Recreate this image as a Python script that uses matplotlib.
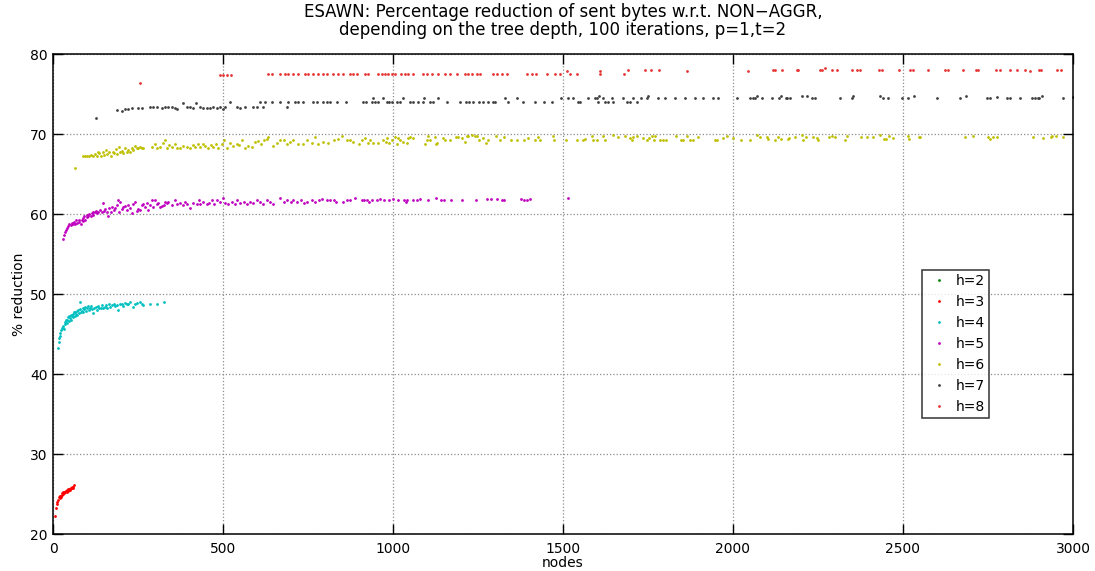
#!/usr/bin/env python3
"""
ESAWN sent-bytes reduction vs. NON-AGGR, one dot cloud per tree depth h.
Values read off the original MATLAB figure.
"""

import matplotlib
matplotlib.use('Agg')
import matplotlib.pyplot as plt

plt.rcParams['font.family'] = ['DejaVu Sans']

# ---- data: (nodes, % reduction) per tree depth ----
h2_nodes = []
h2_pct = []

h3_nodes = [6, 8, 11, 13, 16, 18, 20, 21, 22, 23,
            25, 27, 28, 30, 32, 33, 35, 37, 38, 40,
            42, 43, 45, 47, 48, 50, 52, 53, 55, 57,
            58, 60, 63]
h3_pct = [22.3, 23.3, 23.8, 24.0, 24.25, 24.6, 24.8, 24.5, 24.75, 24.6,
          24.9, 25.1, 25.2, 25.0, 25.3, 25.1, 25.2, 25.4, 25.4, 25.3,
          25.5, 25.6, 25.4, 25.5, 25.6, 25.5, 25.7, 25.8, 25.7, 25.9,
          25.8, 25.9, 26.1]

h4_nodes = [16, 18, 19, 21, 22, 24, 26, 28, 30, 32,
            34, 36, 38, 40, 42, 44, 46, 48, 50, 52,
            54, 56, 58, 60, 62, 64, 66, 68, 70, 72,
            74, 76, 78, 79, 81, 84, 87, 89, 92, 95,
            98, 101, 104, 107, 110, 113, 116, 119, 122, 125,
            128, 132, 136, 140, 144, 148, 152, 156, 160, 164,
            168, 173, 178, 182, 187, 192, 197, 202, 207, 212,
            217, 222, 227, 234, 241, 248, 256, 261, 266, 285,
            307, 325]
h4_pct = [43.3, 44.0, 44.5, 44.75, 45.1, 45.5, 45.7, 45.8, 46.0, 45.6,
          46.25, 46.5, 46.75, 46.4, 46.8, 47.1, 46.6, 47.25, 46.95, 47.4,
          46.75, 47.25, 47.5, 47.1, 47.7, 47.25, 47.8, 47.5, 47.9, 47.4,
          48.0, 47.6, 48.1, 49.0, 47.8, 47.9, 48.2, 47.8, 48.1, 48.4,
          47.9, 48.2, 48.5, 48.0, 48.25, 48.5, 48.1, 47.6, 48.2, 48.4,
          48.0, 48.5, 48.2, 48.3, 48.6, 48.2, 48.4, 48.6, 48.3, 48.7,
          48.4, 48.6, 48.8, 48.5, 48.6, 48.0, 48.7, 48.75, 48.5, 48.9,
          48.7, 48.8, 49.0, 48.4, 48.8, 48.9, 49.0, 48.8, 48.6, 48.8,
          48.75, 49.0]

h5_nodes = [30, 33, 35, 38, 42, 45, 48, 52, 55, 58,
            62, 65, 68, 72, 75, 77, 81, 84, 87, 89,
            92, 95, 99, 101, 104, 107, 111, 114, 117, 119,
            124, 127, 130, 133, 138, 143, 146, 150, 153, 158,
            163, 166, 170, 173, 178, 182, 187, 190, 194, 197,
            202, 207, 212, 217, 222, 227, 231, 236, 241, 246,
            251, 256, 261, 266, 271, 276, 280, 285, 290, 295,
            300, 305, 310, 315, 320, 325, 329, 334, 339, 349,
            359, 364, 374, 383, 388, 393, 403, 413, 423, 428,
            432, 442, 452, 460,
            467, 474, 481, 491, 499, 506, 516, 526, 535, 542,
            550, 562, 570, 579, 589, 599, 609, 617, 628, 638,
            648, 668, 678, 687, 699, 707, 717, 728, 738, 746,
            761, 771, 783, 790, 805, 815, 825, 832, 854, 864,
            874, 888,
            908, 915, 923, 928, 937, 954, 962, 974, 989, 1001,
            1016, 1032, 1038, 1042, 1060, 1070, 1078, 1104, 1127, 1141,
            1151, 1171, 1202, 1244, 1276, 1287, 1305, 1320, 1327, 1376,
            1385, 1393, 1403, 1516]
h5_pct = [56.9, 57.4, 57.8, 58.0, 58.3, 58.5, 58.75, 58.6, 58.9, 58.8,
          59.0, 58.75, 59.2, 58.9, 59.0, 59.25, 58.8, 59.3, 59.1, 59.5,
          59.7, 59.25, 59.9, 59.6, 59.75, 60.0, 59.75, 60.1, 60.3, 59.9,
          60.2, 60.4, 60.1, 60.3, 60.5, 60.2, 61.4, 60.4, 60.6, 60.25,
          59.7, 60.7, 60.3, 60.9, 60.5, 60.7, 61.1, 61.75, 60.3, 61.5,
          60.6, 60.9, 61.0, 60.5, 61.1, 60.7, 60.1, 61.3, 61.5, 60.4,
          60.6, 60.5, 61.1, 61.3, 60.9, 61.4, 60.5, 61.1, 61.75, 60.9,
          61.75, 61.25, 61.4, 60.9, 61.0, 61.1, 61.5, 61.4, 61.5, 61.1,
          61.7, 61.25, 61.4, 61.1, 61.5, 61.25, 60.8, 61.4, 61.25, 61.7,
          61.3, 61.5, 61.3, 61.4,
          61.7, 61.25, 61.8, 61.5, 62.0, 61.4, 61.3, 61.5, 61.25, 61.75,
          61.4, 61.5, 61.25, 61.5, 61.4, 61.8, 61.5, 61.3, 61.7, 61.5,
          61.3, 61.95, 61.5, 61.75, 61.5, 61.75, 61.5, 61.8, 61.4, 61.5,
          61.75, 61.5, 61.8, 61.9, 61.8, 61.7, 61.75, 61.5, 61.5, 61.7,
          61.75, 61.95,
          61.75, 61.7, 61.8, 61.5, 61.75, 61.8, 61.9, 61.7, 61.75, 61.9,
          61.8, 61.8, 61.5, 61.8, 61.8, 61.8, 61.9, 61.8, 62.0, 61.8,
          61.75, 61.8, 61.8, 61.8, 61.9, 61.9, 61.9, 61.8, 61.8, 61.9,
          61.75, 61.8, 61.9, 62.0]

h6_nodes = [64, 87, 94, 99, 107, 111, 117, 124, 128, 133,
            136, 140, 146, 150, 156, 160, 166, 170, 176, 179,
            185, 189, 195, 197, 202, 207, 212, 217, 222, 227,
            231, 236, 241, 246, 251, 256, 261, 266, 290, 300,
            307, 315, 323, 329, 334, 342, 349, 359, 366, 374,
            381, 393, 403, 411, 418, 425, 432, 440, 447, 457,
            464, 472, 479, 486, 496, 503, 513, 521, 530, 540,
            548, 555, 565, 575, 584, 594, 604, 611, 621, 628,
            633, 648, 658, 668, 678, 687, 697, 707, 722, 736,
            746, 761, 771, 780, 795, 810, 825, 839, 849, 864,
            874,
            883, 901, 908, 918, 927, 932, 942, 957, 972, 979,
            983, 989, 996, 1006, 1011, 1016, 1021, 1030, 1040, 1045,
            1050, 1060, 1094, 1099, 1104, 1109, 1123, 1126, 1130, 1148,
            1153, 1168, 1185, 1192, 1202, 1212, 1217, 1222, 1231, 1241,
            1246, 1254, 1264, 1274, 1278, 1303, 1315, 1326, 1346, 1364,
            1385, 1398, 1418, 1427, 1432, 1470, 1474, 1509, 1540, 1558,
            1565, 1584, 1589, 1601, 1617, 1624, 1648, 1663, 1682, 1697,
            1702, 1707, 1719, 1736, 1746, 1754, 1761, 1768, 1771, 1785,
            1793, 1803, 1832, 1846, 1852, 1866, 1873, 1883, 1898, 1947,
            1954, 1972, 1981, 2001, 2025,
            2050, 2072, 2078, 2099, 2104, 2124, 2133, 2140, 2163, 2166,
            2182, 2202, 2207, 2215, 2236, 2248, 2251, 2283, 2290, 2300,
            2329, 2334, 2376, 2393, 2411, 2432, 2444, 2450, 2460, 2470,
            2516, 2519, 2548, 2550, 2682, 2705, 2751, 2756, 2766, 2776,
            2881, 2911, 2934, 2937, 2950, 2970]
h6_pct = [65.8, 67.2, 67.25, 67.3, 67.2, 67.4, 67.25, 67.5, 67.3, 67.8,
          67.6, 67.25, 67.7, 67.4, 68.0, 67.5, 67.75, 67.3, 67.8, 67.6,
          68.1, 67.5, 68.4, 67.75, 67.9, 67.6, 68.2, 67.8, 68.0, 67.7,
          68.2, 68.0, 68.5, 68.25, 68.3, 68.4, 68.25, 68.3, 68.4, 68.75,
          68.25, 68.4, 68.9, 69.25, 68.3, 68.6, 68.4, 68.75, 68.25, 68.3,
          68.5, 68.4, 68.25, 68.6, 68.4, 68.7, 68.4, 68.75, 68.5, 68.3,
          68.6, 68.4, 68.7, 68.3, 68.8, 69.2, 68.3, 68.9, 68.5, 68.75,
          68.6, 69.2, 68.25, 68.5, 68.4, 69.0, 69.1, 68.8, 69.2, 69.4,
          69.6, 68.5, 68.9, 69.2, 69.25, 68.75, 69.0, 69.3, 68.75, 68.8,
          69.25, 68.9, 69.6, 68.8, 69.0, 68.9, 69.25, 69.4, 69.75, 69.2,
          69.3,
          69.05, 68.8, 69.3, 69.45, 68.9, 69.3, 68.9, 68.9, 69.3, 69.05,
          69.45, 68.9, 69.2, 69.6, 68.8, 69.45, 69.2, 69.05, 68.9, 69.45,
          69.6, 69.45, 68.8, 69.2, 69.75, 69.3, 69.6, 68.8, 68.9, 69.45,
          69.25, 69.25, 69.6, 69.6, 69.45, 69.05, 69.75, 69.75, 69.9, 69.75,
          69.75, 69.3, 69.45, 68.9, 69.25, 69.75, 69.2, 69.6, 69.25, 69.25,
          69.3, 69.45, 69.25, 69.6, 69.3, 69.7, 69.25, 69.25, 69.2, 69.3,
          69.4, 69.7, 69.25, 69.25, 69.75, 69.25, 69.9, 69.6, 69.75, 69.45,
          69.25, 69.6, 69.75, 69.45, 69.25, 69.45, 69.7, 69.2, 69.8, 69.25,
          69.3, 69.3, 69.7, 69.3, 69.3, 69.75, 69.3, 69.25, 69.6, 69.25,
          69.25, 69.45, 69.7, 69.45, 69.25,
          69.25, 69.9, 69.6, 69.6, 69.35, 69.25, 69.65, 69.35, 69.35, 69.45,
          69.6, 69.85, 69.25, 69.65, 69.6, 69.45, 69.25, 69.6, 69.75, 69.65,
          69.25, 69.75, 69.65, 69.6, 69.6, 69.85, 69.35, 69.35, 69.75, 69.45,
          69.75, 69.35, 69.65, 69.6, 69.65, 69.75, 69.65, 69.35, 69.6, 69.6,
          69.65, 69.45, 69.6, 69.75, 69.75, 69.6]

h7_nodes = [126, 187, 202, 212, 222, 231, 251, 261, 285, 295,
            305, 320, 329, 339, 349, 359, 364, 383, 393, 403,
            413, 422, 432, 442, 452, 462, 471, 481, 491, 501,
            506, 521, 540, 550, 565, 589, 599, 609, 619, 624,
            643, 668, 687, 692, 712, 721, 736, 766, 775, 795,
            805, 814, 834, 863,
            913, 921, 937, 942, 947, 957, 972, 981, 989, 996,
            1011, 1021, 1030, 1050, 1060, 1074, 1089, 1091, 1109, 1119,
            1133, 1158, 1197, 1215, 1224, 1234, 1254, 1266, 1280, 1295,
            1300, 1329, 1339, 1364, 1383, 1418, 1444, 1467, 1493,
            1514, 1528, 1545, 1550, 1574, 1594, 1601, 1604, 1607, 1619,
            1623, 1633, 1643, 1648, 1677, 1687, 1697, 1705, 1717, 1728,
            1746, 1751, 1780, 1800, 1829, 1859, 1888, 1913, 1942, 1957,
            2011,
            2050, 2060, 2065, 2072, 2084, 2114, 2136, 2141, 2156, 2160,
            2168, 2202, 2219, 2231, 2241, 2315, 2349, 2354, 2432, 2442,
            2457, 2496, 2516, 2532, 2599, 2668, 2684, 2746, 2756, 2776,
            2805, 2815, 2844, 2878, 2888, 2898, 2901, 2908, 2970, 2999]
h7_pct = [71.95, 73.0, 72.9, 73.1, 73.15, 73.2, 73.2, 73.2, 73.4, 73.4,
          73.35, 73.2, 73.35, 73.35, 73.4, 73.2, 73.1, 73.85, 73.35, 73.4,
          73.2, 73.9, 73.35, 73.2, 73.3, 73.2, 73.35, 73.25, 73.35, 73.1,
          73.4, 74.05, 73.35, 73.3, 73.35, 73.4, 73.35, 74.05, 73.35, 74.05,
          74.05, 74.05, 73.4, 74.05, 74.05, 74.0, 74.05, 74.05, 74.0, 74.05,
          74.05, 74.0, 74.05, 74.05,
          74.05, 74.0, 74.05, 74.45, 74.05, 74.0, 74.45, 74.05, 74.0, 74.05,
          74.05, 74.0, 74.45, 74.05, 74.0, 74.05, 74.05, 74.45, 74.05, 74.0,
          74.45, 74.05, 74.0, 74.05, 74.05, 74.0, 74.05, 74.05, 74.0, 74.05,
          74.05, 74.45, 74.05, 74.45, 74.05, 74.0, 74.05, 74.05, 74.45,
          74.45, 74.45, 74.05, 74.05, 74.45, 74.45, 74.45, 74.05, 74.75, 74.45,
          74.05, 74.05, 74.45, 74.05, 74.45, 74.05, 74.05, 74.55, 74.05, 74.45,
          74.45, 74.75, 74.45, 74.45, 74.45, 74.45, 74.45, 74.45, 74.45, 74.45,
          74.45,
          74.45, 74.45, 74.45, 74.75, 74.45, 74.45, 74.45, 74.75, 74.45, 74.45,
          74.45, 74.75, 74.75, 74.45, 74.45, 74.45, 74.45, 74.75, 74.75, 74.45,
          74.45, 74.45, 74.45, 74.75, 74.45, 74.45, 74.8, 74.45, 74.45, 74.65,
          74.45, 74.45, 74.45, 74.45, 74.45, 74.45, 74.45, 74.8, 74.45, 74.65]

h8_nodes = [256, 491, 501, 513, 525, 633, 643, 668, 682, 692,
            707, 721, 741, 751, 766, 780, 795, 807, 824, 839,
            854, 873, 883, 893, 918, 927, 957, 967, 976, 986,
            996, 1006, 1025, 1035, 1045, 1060, 1089, 1099, 1114, 1133,
            1153, 1168, 1187, 1212, 1222, 1231, 1246, 1256, 1295, 1305,
            1320, 1334, 1393, 1408, 1422, 1452, 1476, 1491, 1511, 1521,
            1540, 1609, 1609, 1679, 1692, 1741, 1759, 1782, 1866, 2045,
            2119, 2124, 2143, 2187, 2192, 2256, 2261, 2271, 2290, 2307,
            2349, 2364, 2374, 2428, 2437, 2488, 2521, 2530, 2575, 2624,
            2633, 2676, 2715, 2722, 2774, 2785, 2815, 2834, 2859, 2874,
            2901, 2905, 2952, 2964]
h8_pct = [76.4, 77.4, 77.35, 77.4, 77.35, 77.45, 77.5, 77.45, 77.5, 77.45,
          77.5, 77.45, 77.5, 77.45, 77.5, 77.45, 77.5, 77.45, 77.5, 77.45,
          77.5, 77.45, 77.5, 77.45, 77.5, 77.5, 77.5, 77.45, 77.5, 77.5,
          77.45, 77.5, 77.5, 77.5, 77.45, 77.5, 77.5, 77.45, 77.5, 77.5,
          77.5, 77.45, 77.5, 77.5, 77.45, 77.5, 77.5, 77.45, 77.5, 77.45,
          77.5, 77.5, 77.5, 77.45, 77.5, 77.5, 77.5, 77.5, 77.9, 77.5,
          77.5, 77.9, 77.5, 77.5, 78.0, 78.0, 78.0, 78.0, 77.9, 77.9,
          78.0, 78.0, 78.0, 78.0, 78.0, 78.0, 78.0, 78.3, 78.0, 77.95,
          78.0, 78.0, 78.0, 78.0, 78.0, 78.0, 78.0, 78.0, 78.0, 78.0,
          78.0, 78.0, 78.0, 78.0, 78.0, 78.0, 78.0, 78.0, 77.95, 77.9,
          78.0, 78.0, 78.0, 78.0]

depth_labels = ['h=2', 'h=3', 'h=4', 'h=5', 'h=6', 'h=7', 'h=8']
x_ticks = [0, 500, 1000, 1500, 2000, 2500, 3000]
y_ticks = [20, 30, 40, 50, 60, 70, 80]

# MATLAB-ish colour order
colors = [(0, 0.5, 0), (1, 0, 0), (0, 0.75, 0.75), (0.75, 0, 0.75),
          (0.75, 0.75, 0), (0.25, 0.25, 0.25), (0.9, 0.2, 0.2)]

series = [(h2_nodes, h2_pct), (h3_nodes, h3_pct), (h4_nodes, h4_pct),
          (h5_nodes, h5_pct), (h6_nodes, h6_pct), (h7_nodes, h7_pct),
          (h8_nodes, h8_pct)]

fig = plt.figure(figsize=(10.95, 5.71), dpi=100)
ax = fig.add_axes([53 / 1095, 37 / 571, 1020 / 1095, 480 / 571])

for (xs, ys), lab, col in zip(series, depth_labels, colors):
    ax.plot(xs, ys, linestyle='none', marker='o', markersize=2.0,
            markeredgewidth=0, color=col, label=lab)

ax.set_xlim(0, 3000)
ax.set_ylim(20, 80)
ax.set_xticks(x_ticks)
ax.set_yticks(y_ticks)
ax.tick_params(axis='both', which='major', direction='in', length=7,
               width=1, top=True, right=True, labelsize=10)
ax.tick_params(axis='x', pad=6)
ax.tick_params(axis='y', pad=4)
for sp in ax.spines.values():
    sp.set_linewidth(1.1)
ax.grid(True, linestyle=':', color='0.55', linewidth=0.9)
ax.set_axisbelow(True)

ax.set_xlabel('nodes', fontsize=10, labelpad=0)
ax.set_ylabel('% reduction', fontsize=10, labelpad=3)
ax.set_title('ESAWN: Percentage reduction of sent bytes w.r.t. NON\u2212AGGR,\n'
             'depending on the tree depth, 100 iterations, p=1,t=2',
             fontsize=12, pad=14, linespacing=1.0)

leg = ax.legend(loc='upper left', bbox_to_anchor=(0.852, 0.55), fontsize=10,
                frameon=True, fancybox=False, markerscale=1.0,
                handlelength=1.9, handletextpad=0.25, labelspacing=0.5,
                borderpad=0.3, borderaxespad=0)
leg.get_frame().set_edgecolor('black')
leg.get_frame().set_linewidth(1.1)

plt.savefig('out.png', dpi=100)
plt.close()
